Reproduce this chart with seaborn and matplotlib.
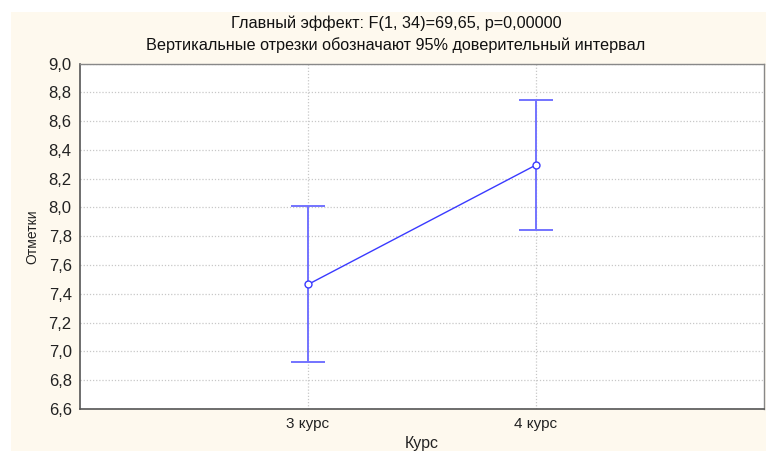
import numpy as np
import pandas as pd
import matplotlib
matplotlib.use("Agg")
import matplotlib.pyplot as plt
import seaborn as sns
from matplotlib.ticker import FuncFormatter
from matplotlib.patches import Rectangle

categories = ["3 курс", "4 курс"]
means = [7.465, 8.295]
ci_low = [6.925, 7.840]
ci_high = [8.010, 8.745]
y_ticks = [6.6, 6.8, 7.0, 7.2, 7.4, 7.6, 7.8, 8.0, 8.2, 8.4, 8.6, 8.8, 9.0]

title1 = "Главный эффект: F(1, 34)=69,65, p=0,00000"
title2 = "Вертикальные отрезки обозначают 95% доверительный интервал"

sns.set_style("white")
plt.rcParams['font.family'] = ['Liberation Sans', 'DejaVu Sans']

fig = plt.figure(figsize=(7.66, 4.51), dpi=100, facecolor="white")
bg = Rectangle((11/766, 0), 1 - 11/766, 1 - 12/451, transform=fig.transFigure,
               facecolor="#fef9ee", edgecolor="none", zorder=-10)
fig.add_artist(bg)
ax = fig.add_axes([80/766, 42/451, (764-80)/766, (409-63.5)/451])
ax.set_facecolor("white")

df = pd.DataFrame({"Курс": categories, "Отметки": means})
m = np.array(means)
yerr = [m - np.array(ci_low), np.array(ci_high) - m]

ax.errorbar(x=[0, 1], y=means, yerr=yerr, fmt="none", ecolor="#7373ff",
            elinewidth=1.4, capsize=12, capthick=1.4, zorder=3)
sns.lineplot(data=df, x="Курс", y="Отметки", ax=ax, color="#3a3aff", linewidth=1.0,
             marker="o", markersize=5, markerfacecolor="white",
             markeredgecolor="#3a3aff", markeredgewidth=1.0, zorder=4, sort=False)

ax.set_xlim(-1, 2)
ax.set_ylim(6.6, 9.0)
ax.set_xticks([0, 1])
ax.set_xticklabels(categories)
ax.set_yticks(y_ticks)
ax.yaxis.set_major_formatter(FuncFormatter(lambda v, p: f"{v:.1f}".replace(".", ",")))
ax.tick_params(axis="both", length=0, colors="#222222")
ax.tick_params(axis="y", pad=6, labelsize=12)
ax.tick_params(axis="x", pad=6, labelsize=11)
ax.grid(True, linestyle=(0, (1, 1.5)), color="#c8c8c8", linewidth=0.9)
for side in ["left", "bottom"]:
    ax.spines[side].set_color("#555555")
    ax.spines[side].set_linewidth(1.2)
for side in ["top", "right"]:
    ax.spines[side].set_color("#888888")
    ax.spines[side].set_linewidth(1.0)

ax.set_xlabel("Курс", fontsize=11.5, color="#222222")
ax.set_ylabel("Отметки", fontsize=10, color="#222222")
ax.xaxis.set_label_coords(0.5, -0.079)
ax.yaxis.set_label_coords(-0.06, 0.5)

fig.text(0.517, 1 - 23/451, title1, ha="center", va="center", fontsize=11.7, color="#111111")
fig.text(0.517, 1 - 45/451, title2, ha="center", va="center", fontsize=11.7, color="#111111")

fig.savefig("out.png", dpi=100, facecolor=fig.get_facecolor())
